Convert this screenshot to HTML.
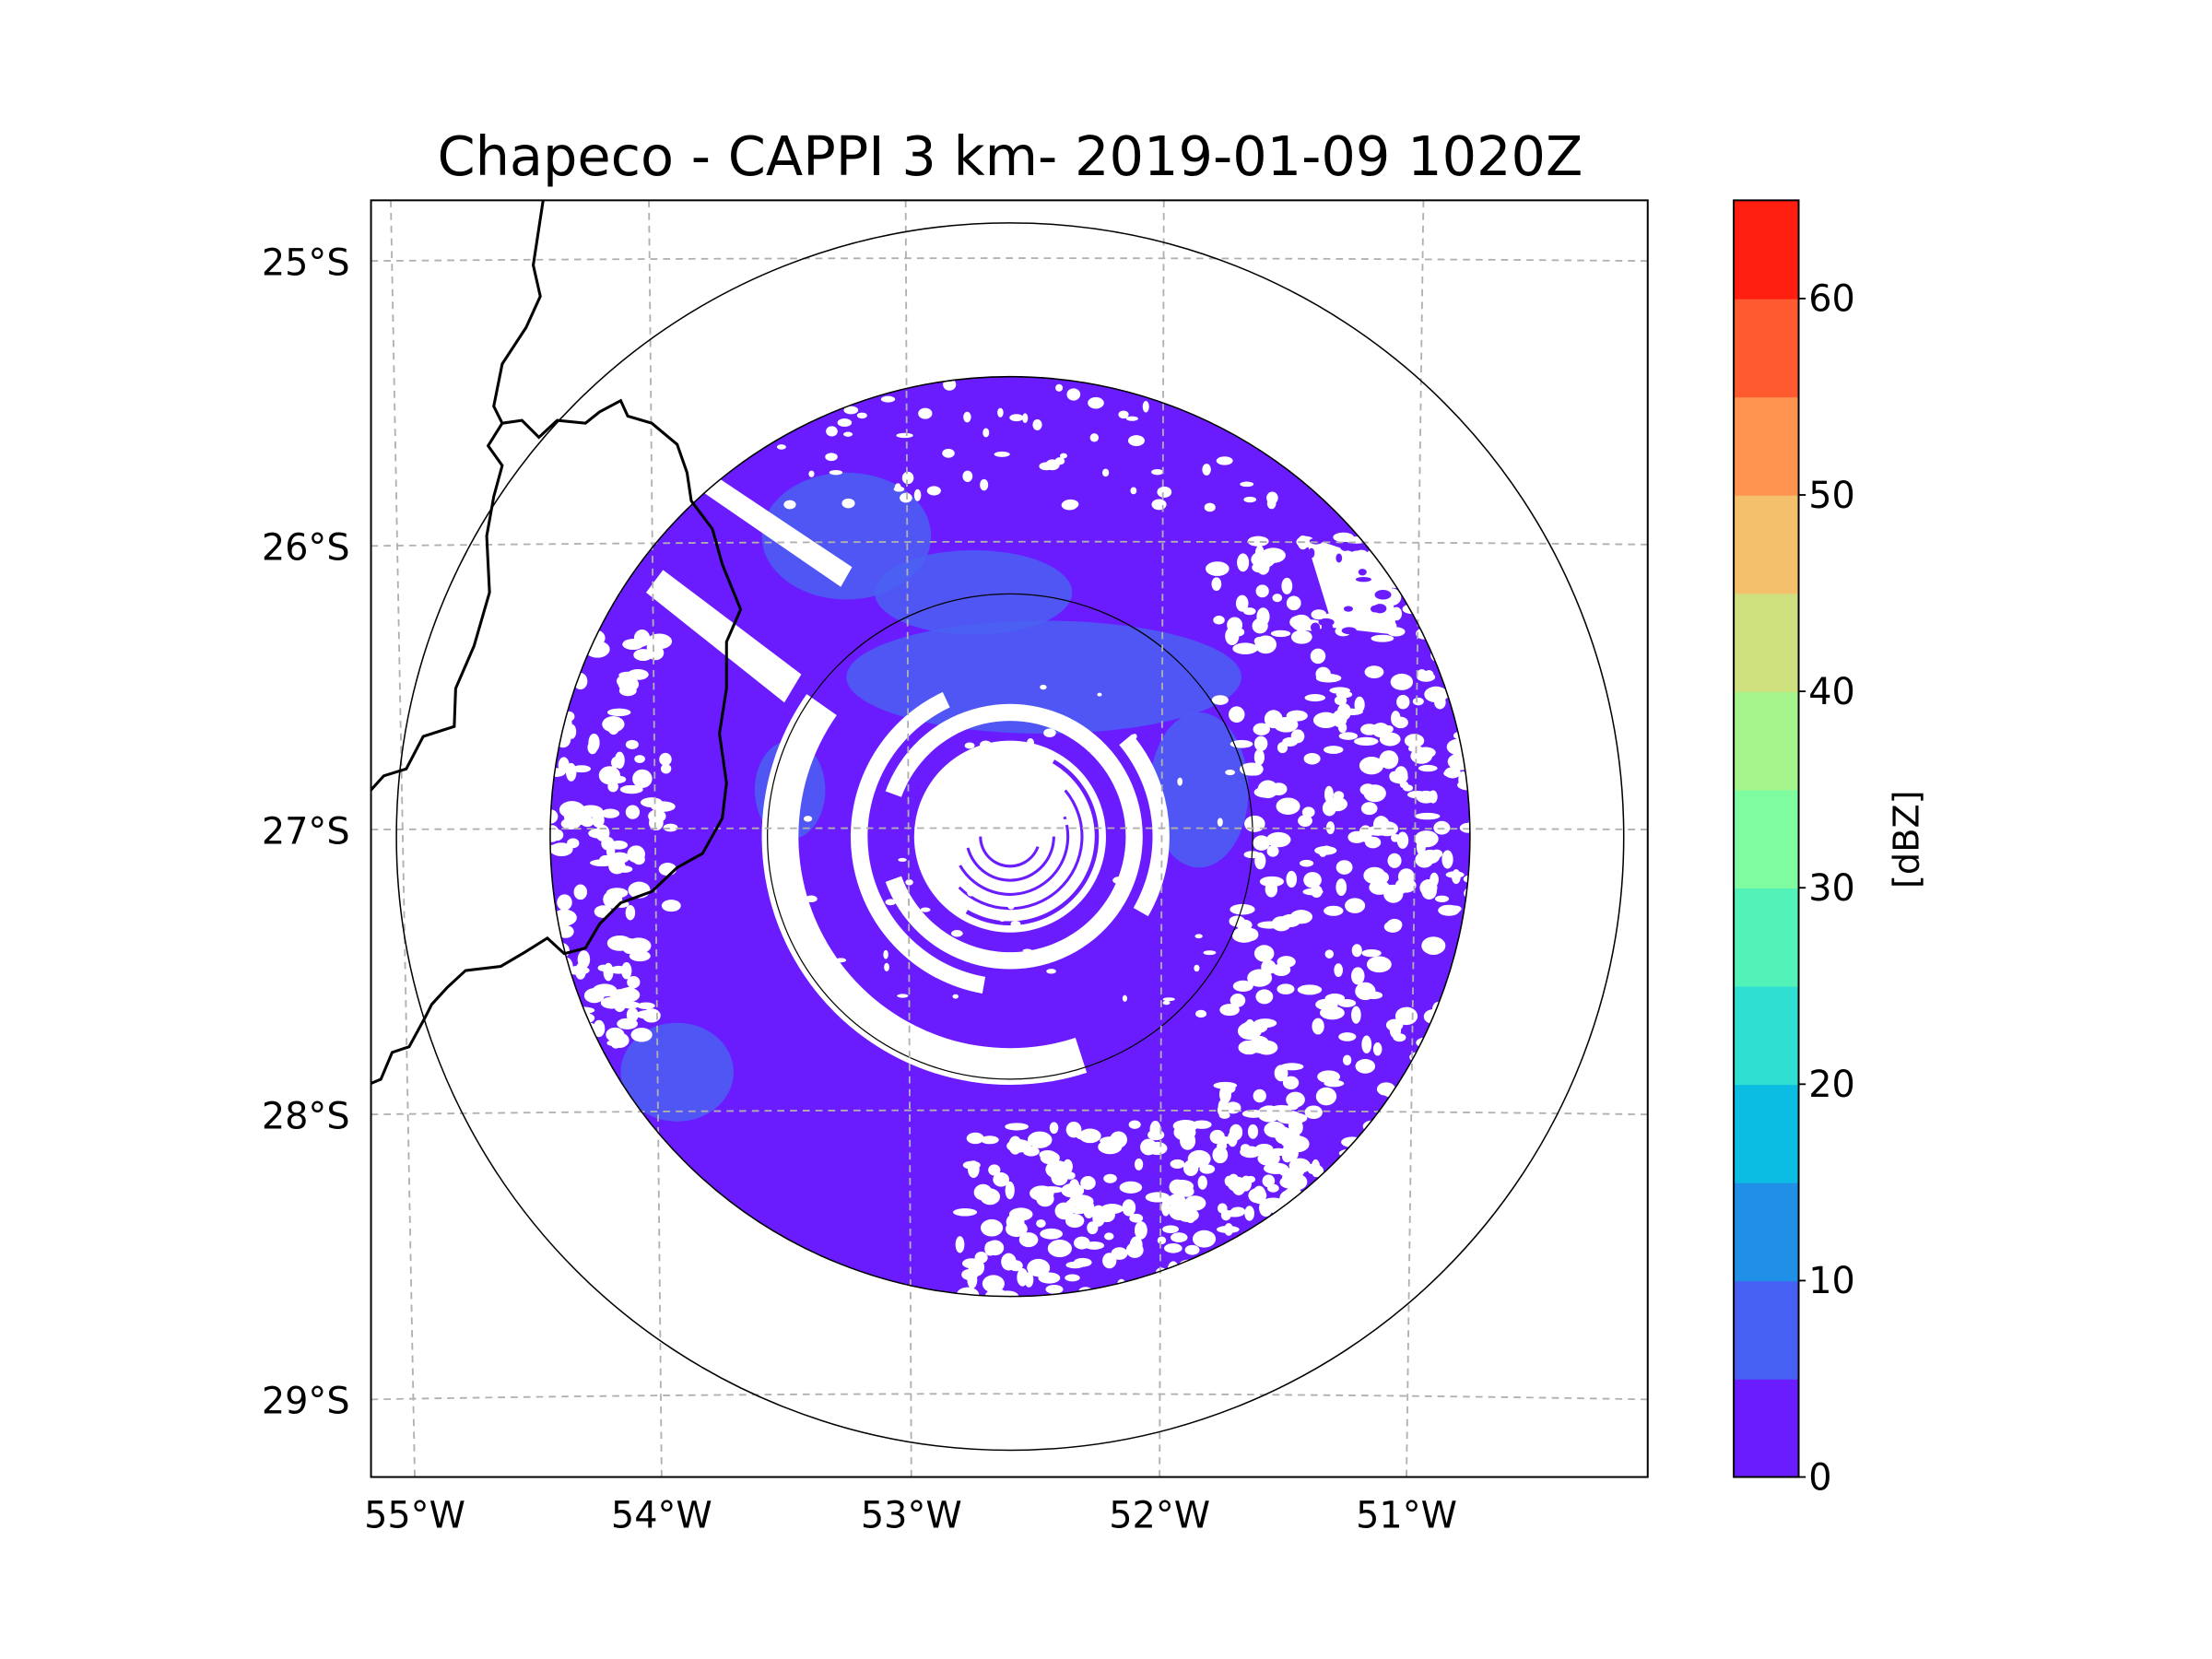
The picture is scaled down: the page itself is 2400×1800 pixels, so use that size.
<!DOCTYPE html>
<html><head><meta charset="utf-8"><style>
html,body{margin:0;padding:0;background:#fff;width:2400px;height:1800px;overflow:hidden}
svg{display:block}
text{font-family:"DejaVu Sans","Liberation Sans",sans-serif;fill:#000}
</style></head><body>
<svg id="fig" width="2400" height="1800" viewBox="0 0 2400 1800" xmlns="http://www.w3.org/2000/svg">
<g id="root" transform="scale(1.530612)">
<defs><clipPath id="axclip"><rect x="263" y="142" width="905" height="905"/></clipPath>
<clipPath id="radclip"><circle cx="716" cy="593" r="326"/></clipPath></defs>
<text x="716" y="124" text-anchor="middle" font-size="38.5">Chapeco - CAPPI 3 km- 2019-01-09 1020Z</text>
<g clip-path="url(#axclip)">
 <g id="radar" clip-path="url(#radclip)"></g>
 <g id="grid"></g>
 <circle cx="716" cy="593" r="326" fill="none" stroke="#000" stroke-width="1"/>
 <circle cx="716" cy="593" r="435" fill="none" stroke="#000" stroke-width="1"/>
 <path d="M385,142 L378,188 L383,210 L373,232 L356,258 L350,288 L356,300 L346,316 L356,330 L350,352 L345,380 L347,420 L336,458 L323,488 L322,515 L300,522 L288,545 L272,550 L263,560" fill="none" stroke="#000" stroke-width="2"/>
 <path d="M356,300 L370,298 L382,310 L395,298 L415,300 L425,292 L440,284 L445,295 L462,300 L480,315 L487,335 L490,355 L505,375 L512,400 L525,432 L515,455 L515,488 L510,520 L515,555 L512,580 L498,605 L480,615 L462,632 L440,640 L425,655 L415,672 L400,676 L388,665 L372,675 L355,685 L330,688 L317,700 L306,712 L302,720 L290,742 L278,746 L270,765 L263,768" fill="none" stroke="#000" stroke-width="2"/>
</g>
<rect x="263" y="142" width="905" height="905" fill="none" stroke="#000" stroke-width="1.3"/>
<g id="labels"></g>
<g id="cbar"></g>
<text transform="translate(1360,595) rotate(-90)" text-anchor="middle" font-size="25">[dBZ]</text>
</g>
</svg>
<script>
const NS="http://www.w3.org/2000/svg";
const latLabels=["25°S","26°S","27°S","28°S","29°S"];
const lonLabels=["55°W","54°W","53°W","52°W","51°W"];
const cbarBounds=[0,5,10,15,20,25,30,35,40,45,50,55,60,65];
const cbarColors=["#6a1cff","#4560f2","#2090e6","#0cbde3","#2edfd2","#52f2b8","#80fca0","#a6f58c","#cfe07e","#f4c06c","#ff9450","#ff5a30","#ff1e10"];
const cbarTicks=[0,10,20,30,40,50,60];
function el(t,a,p){const e=document.createElementNS(NS,t);for(const k in a)e.setAttribute(k,a[k]);(p||document.getElementById('root')).appendChild(e);return e;}
const grid=document.getElementById('grid');
const latY=[[185,183,185],[387,384,386],[588,587,588],[790,787,790],[992,988,992]];
latY.forEach((y,i)=>{const g=el('path',{d:`M263,${y[0]} Q716,${2*y[1]-(y[0]+y[2])/2} 1168,${y[2]}`,fill:'none',stroke:'#b0b0b0','stroke-width':1.2,'stroke-dasharray':'5,4'},grid);

});
const lonX=[[277,294],[460,469],[642,646],[825,822],[1009,997]];
lonX.forEach(x=>{const g=el('line',{x1:x[0],y1:142,x2:x[1],y2:1047,stroke:'#b0b0b0','stroke-width':1.2,'stroke-dasharray':'5,4'},grid);

});
const lab=document.getElementById('labels');
latLabels.forEach((t,i)=>{const e=el('text',{x:248,y:latY[i][0]+10,'text-anchor':'end','font-size':26},lab);e.textContent=t;

});
lonLabels.forEach((t,i)=>{const e=el('text',{x:lonX[i][1],y:1083,'text-anchor':'middle','font-size':26},lab);e.textContent=t;

});
const cb=document.getElementById('cbar');
const cx0=1229,cw=46,cyTop=142,cyBot=1047;
const vy=v=>cyBot-(v-cbarBounds[0])/(cbarBounds[cbarBounds.length-1]-cbarBounds[0])*(cyBot-cyTop);
cbarColors.forEach((c,i)=>{const r=el('rect',{x:cx0,y:vy(cbarBounds[i+1]),width:cw,height:vy(cbarBounds[i])-vy(cbarBounds[i+1])+0.5,fill:c},cb);

});
el('rect',{x:cx0,y:cyTop,width:cw,height:cyBot-cyTop,fill:'none',stroke:'#000','stroke-width':1.3},cb);
cbarTicks.forEach(v=>{el('line',{x1:cx0+cw,x2:cx0+cw+5,y1:vy(v),y2:vy(v),stroke:'#000','stroke-width':1.2},cb);
const t=el('text',{x:1282,y:vy(v)+9,'font-size':26},cb);t.textContent=v;

});
// radar field (illustrative image)
const R=document.getElementById('radar');
const C=[716,593];
const P='#6a1cff',B='#4a60f2',W='#ffffff';
el('circle',{cx:C[0],cy:C[1],r:326,fill:P},R);
[[740,480,140,40],[600,380,60,45],[480,760,40,35],[690,420,70,30],[850,560,35,55],[560,560,25,35]].forEach(e=>el('ellipse',{cx:e[0],cy:e[1],rx:e[2],ry:e[3],fill:B,opacity:0.85},R));
function arc(r1,r2,a1,a2,fill){const t=a=>a*Math.PI/180;const p=(r,a)=>[C[0]+r*Math.cos(t(a)),C[1]+r*Math.sin(t(a))];
const large=(a2-a1)>180?1:0;const A=p(r2,a1),Bp=p(r2,a2),Cc=p(r1,a2),D=p(r1,a1);
return el('path',{d:`M${A} A${r2},${r2} 0 ${large} 1 ${Bp} L${Cc} A${r1},${r1} 0 ${large} 0 ${D}Z`,fill:fill},R);}
let s=12345;const rnd=()=>{s=(s*1103515245+12345)%2147483648;return s/2147483648;};
function speckle(x0,y0,w,h,n,col,sz,inside){for(let i=0;i<n;i++){const x=x0+rnd()*w,y=y0+rnd()*h;const a=rnd(),b=rnd();if(inside&&!inside(x,y))continue;el('ellipse',{cx:x,cy:y,rx:sz*(0.5+a),ry:sz*(0.4+b*0.7),fill:col},R);}}
const dist=(x,y)=>Math.hypot(x-C[0],y-C[1]);
// right speckled zone (white blobs on purple)
speckle(860,380,190,520,420,W,6,(x,y)=>dist(x,y)>170&&(x-C[0])>120);
// left speckled zone
speckle(390,440,90,300,170,W,6,(x,y)=>x<455||(x<480&&rnd()<0.4));
// bottom speckled zone
speckle(680,790,240,140,200,W,6,(x,y)=>y>795);
// top area light speckle
speckle(520,270,420,90,70,W,4);
// top-right gap
el('path',{d:'M925,380 L985,400 L990,450 L945,445Z',fill:W},R);
speckle(925,380,60,70,15,P,4);
// streak bands
el('polygon',{points:'458,420 470,404 568,478 556,498',fill:W},R);
el('polygon',{points:'497,348 505,336 604,402 596,416',fill:W},R);
// rings
arc(150,176,72,215,W);
arc(101,113,100,245,W);
arc(101,113,-40,30,W);
arc(82,94,200,520,W);
el('circle',{cx:C[0],cy:C[1],r:68,fill:W},R);
[[60,63],[50,52],[40,42],[30,32],[20,22]].forEach((rr,i)=>arc(rr[0],rr[1],-60+i*20,120+i*15,P));
speckle(560,480,320,240,50,W,3);
el('circle',{cx:C[0],cy:C[1],r:172,fill:'none',stroke:'#000','stroke-width':0.8},R);
</script>
</body></html>
